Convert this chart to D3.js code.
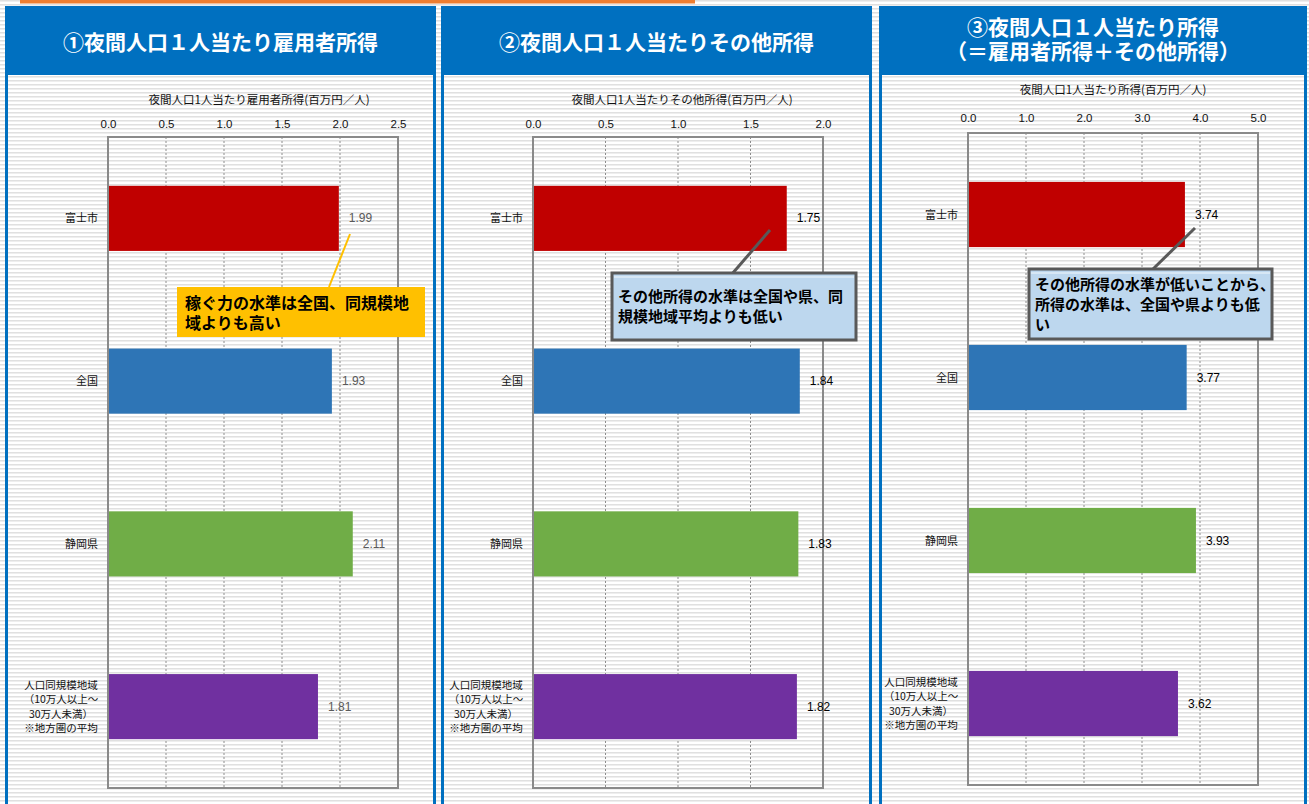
<!DOCTYPE html>
<html lang="ja">
<head>
<meta charset="utf-8">
<script src="https://cdn.jsdelivr.net/npm/d3@7"></script>
<style>
  html, body { margin: 0; padding: 0; background: #fff; }
  svg { display: block; font-family: "Noto Sans CJK JP", "Noto Sans", sans-serif; }
</style>
</head>
<body>
<svg id="chart" width="1309" height="804"></svg>
<script>
// ---- data ----
const categories = ["富士市", "全国", "静岡県", "人口同規模地域"];
const categoryLines = [
  ["富士市"],
  ["全国"],
  ["静岡県"],
  ["人口同規模地域", "（10万人以上～", "30万人未満）", "※地方圏の平均"]
];
const barColors = ["#C00000", "#2E75B6", "#70AD47", "#7030A0"];

const employeeIncome = [1.99, 1.93, 2.11, 1.81];   // 雇用者所得
const otherIncome    = [1.75, 1.84, 1.83, 1.82];   // その他所得
const totalIncome    = [3.74, 3.77, 3.93, 3.62];   // 所得合計

const ticksEmployee = [0, 0.5, 1.0, 1.5, 2.0, 2.5];
const ticksOther    = [0, 0.5, 1.0, 1.5, 2.0];
const ticksTotal    = [0, 1, 2, 3, 4, 5];

const panelTitles = [
  ["①夜間人口１人当たり雇用者所得"],
  ["②夜間人口１人当たりその他所得"],
  ["③夜間人口１人当たり所得", "（＝雇用者所得＋その他所得）"]
];
const axisTitles = [
  "夜間人口1人当たり雇用者所得(百万円／人)",
  "夜間人口1人当たりその他所得(百万円／人)",
  "夜間人口1人当たり所得(百万円／人)"
];
const notes = [
  ["稼ぐ力の水準は全国、同規模地", "域よりも高い"],
  ["その他所得の水準は全国や県、同", "規模地域平均よりも低い"],
  ["その他所得の水準が低いことから、", "所得の水準は、全国や県よりも低", "い"]
];

// ---- drawing ----
const svg = d3.select("#chart");
const W = 1309, H = 804;
const fmt = d3.format(".1f");
const fmt2 = d3.format(".2f");

// striped page texture
const defs = svg.append("defs");
const pat = defs.append("pattern")
  .attr("id", "stripes").attr("patternUnits", "userSpaceOnUse")
  .attr("width", 8).attr("height", 4);
pat.append("rect").attr("width", 8).attr("height", 4).attr("fill", "#ffffff");
pat.append("rect").attr("y", 0).attr("width", 8).attr("height", 1).attr("fill", "#e0e0e0");
pat.append("rect").attr("y", 1).attr("width", 8).attr("height", 1).attr("fill", "#eeeeee");

svg.append("rect").attr("width", W).attr("height", H).attr("fill", "url(#stripes)");

// orange accent line along the top
svg.append("rect").attr("x", 20).attr("y", 0).attr("width", 675).attr("height", 3.5)
  .attr("fill", "#ED7D31");

const panels = [
  { x0: 5, x1: 436, plot: { l: 108, r: 398, t: 137, b: 788 }, titleDy: -37, tickDy: -13,
    values: employeeIncome, ticks: ticksEmployee, max: 2.5, labelColor: "#595959",
    note: { x: 177, y: 287, w: 248, h: 50, fill: "#FFC000", stroke: "none", sw: 0,
            lineColor: "#FFC000", lineW: 2, from: [350, 234], to: [329, 287], fs: 16, ty: 303, lh: 20 } },
  { x0: 441, x1: 872, plot: { l: 533, r: 823, t: 137, b: 788 }, titleDy: -37, tickDy: -13,
    values: otherIncome, ticks: ticksOther, max: 2.0, labelColor: "#000000",
    note: { x: 612, y: 273, w: 244, h: 67, fill: "#BDD7EE", stroke: "#595959", sw: 3,
            lineColor: "#595959", lineW: 3, from: [770, 230], to: [732, 274], fs: 15, ty: 297, lh: 20 } },
  { x0: 879, x1: 1307, plot: { l: 968, r: 1258, t: 133, b: 785 }, titleDy: -43, tickDy: -15,
    values: totalIncome, ticks: ticksTotal, max: 5, labelColor: "#000000",
    note: { x: 1029, y: 269, w: 243, h: 70, fill: "#BDD7EE", stroke: "#595959", sw: 3,
            lineColor: "#595959", lineW: 3, from: [1195, 228], to: [1152, 270], fs: 15, ty: 285, lh: 20 } }
];

panels.forEach((p, i) => {
  const g = svg.append("g");

  // panel frame + header band
  g.append("rect")
    .attr("x", p.x0 + 1.5).attr("y", 7.5)
    .attr("width", p.x1 - p.x0 - 3).attr("height", H)
    .attr("fill", "none").attr("stroke", "#0070C0").attr("stroke-width", 3);
  g.append("rect")
    .attr("x", p.x0).attr("y", 6)
    .attr("width", p.x1 - p.x0).attr("height", 69)
    .attr("fill", "#0070C0");

  const cx = (p.x0 + p.x1) / 2;
  const tl = panelTitles[i];
  const title = g.append("text")
    .attr("x", cx).attr("y", tl.length === 1 ? 50 : 35)
    .attr("text-anchor", "middle").attr("fill", "#fff")
    .attr("font-size", 21).attr("font-weight", 700);
  tl.forEach((t, k) => {
    title.append("tspan").attr("x", cx).attr("dy", k === 0 ? 0 : 24).text(t);
  });

  // scales
  const x = d3.scaleLinear().domain([0, p.max]).range([p.plot.l, p.plot.r]);
  const y = d3.scaleBand().domain(categories)
    .range([p.plot.t, p.plot.b]).paddingInner(0.6).paddingOuter(0.3);

  // axis title
  g.append("text")
    .attr("x", (p.plot.l + p.plot.r) / 2 + (i === 0 ? 6 : i === 1 ? 4 : 0))
    .attr("y", p.plot.t + p.titleDy + 4)
    .attr("text-anchor", "middle").attr("font-size", 11.5).attr("fill", "#111")
    .text(axisTitles[i]);

  // top axis tick labels
  const axis = d3.axisTop(x).tickValues(p.ticks).tickFormat(fmt).tickSize(0).tickPadding(0);
  const ag = g.append("g")
    .attr("transform", `translate(0,${p.plot.t + p.tickDy + 4})`)
    .call(axis);
  ag.select(".domain").remove();
  ag.selectAll("text")
    .attr("font-family", "'Liberation Sans', Arial, sans-serif")
    .attr("font-size", 11.5).attr("fill", "#111").attr("dy", 0);

  // dotted vertical gridlines
  g.append("g").selectAll("line")
    .data(p.ticks.slice(1, -1))
    .join("line")
    .attr("x1", d => x(d)).attr("x2", d => x(d))
    .attr("y1", p.plot.t).attr("y2", p.plot.b)
    .attr("stroke", "#8c8c8c").attr("stroke-width", 1).attr("stroke-dasharray", "2,2");

  // plot frame
  g.append("rect")
    .attr("x", p.plot.l).attr("y", p.plot.t)
    .attr("width", p.plot.r - p.plot.l).attr("height", p.plot.b - p.plot.t)
    .attr("fill", "none").attr("stroke", "#8a8a8a").attr("stroke-width", 2);

  // bars
  g.append("g").selectAll("rect")
    .data(categories)
    .join("rect")
    .attr("x", x(0) + 1)
    .attr("y", d => y(d))
    .attr("width", (d, k) => x(p.values[k]) - x(0) - 1)
    .attr("height", y.bandwidth())
    .attr("fill", (d, k) => barColors[k]);

  // value labels
  g.append("g").selectAll("text")
    .data(categories)
    .join("text")
    .attr("x", (d, k) => x(p.values[k]) + 10)
    .attr("y", d => y(d) + y.bandwidth() / 2 + 4)
    .attr("font-family", "'Liberation Sans', Arial, sans-serif")
    .attr("font-size", 12).attr("fill", p.labelColor)
    .text((d, k) => fmt2(p.values[k]));

  // category labels
  categories.forEach((c, k) => {
    const lines = categoryLines[k];
    const cy = y(c) + y.bandwidth() / 2;
    if (lines.length === 1) {
      g.append("text").attr("x", p.plot.l - 10).attr("y", cy + 4)
        .attr("text-anchor", "end").attr("font-size", 11).attr("fill", "#111")
        .text(lines[0]);
    } else {
      const lh = 14.3;
      const lx = p.plot.l - 47;
      const t = g.append("text").attr("x", lx)
        .attr("y", cy - (lines.length - 1) / 2 * lh + 4)
        .attr("text-anchor", "middle").attr("font-size", 10.5).attr("fill", "#111");
      lines.forEach((s, m) => {
        t.append("tspan").attr("x", lx).attr("dy", m === 0 ? 0 : lh).text(s);
      });
    }
  });

  // callout
  const n = p.note;
  g.append("line")
    .attr("x1", n.from[0]).attr("y1", n.from[1])
    .attr("x2", n.to[0]).attr("y2", n.to[1])
    .attr("stroke", n.lineColor).attr("stroke-width", n.lineW);
  g.append("rect")
    .attr("x", n.x).attr("y", n.y).attr("width", n.w).attr("height", n.h)
    .attr("fill", n.fill).attr("stroke", n.stroke).attr("stroke-width", n.sw);
  if (n.stroke !== "none") {
    g.append("line")
      .attr("x1", n.x + 2).attr("x2", n.x + n.w - 2)
      .attr("y1", n.y + 4).attr("y2", n.y + 4)
      .attr("stroke", "#ffffff").attr("stroke-width", 1).attr("opacity", 0.8);
  }
  const tx = n.x + (i === 0 ? 8 : 6);
  const nt = g.append("text")
    .attr("x", tx).attr("y", n.ty + n.fs * 0.36)
    .attr("font-size", n.fs).attr("font-weight", 700).attr("fill", "#000");
  notes[i].forEach((s, m) => {
    nt.append("tspan").attr("x", tx).attr("dy", m === 0 ? 0 : n.lh).text(s);
  });
});
</script>
</body>
</html>
